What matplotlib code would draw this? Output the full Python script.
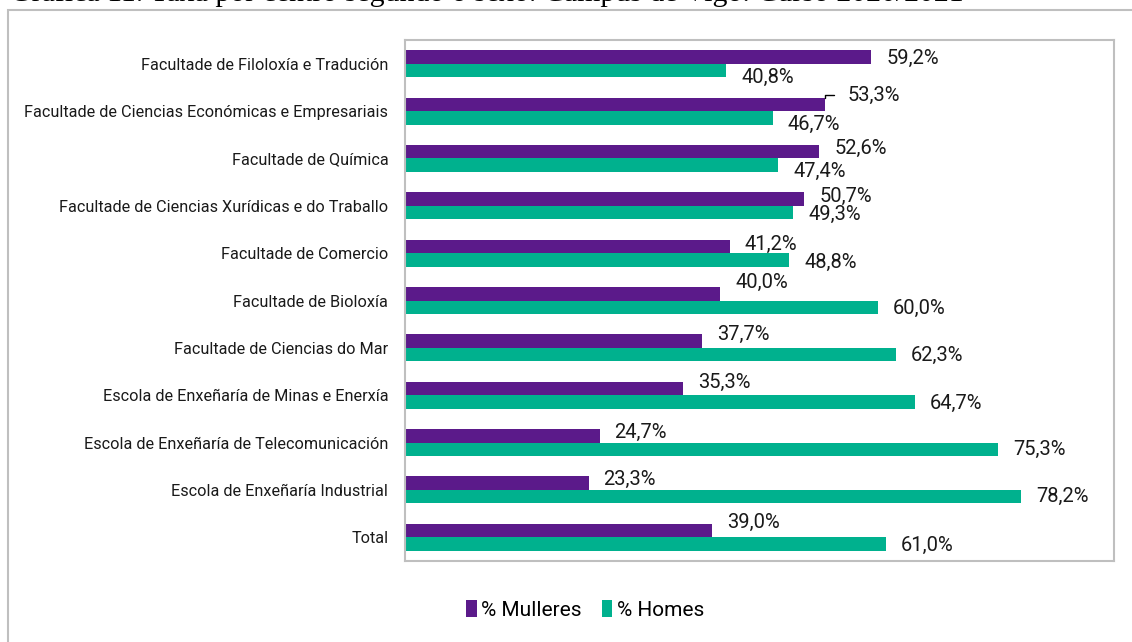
import matplotlib.pyplot as plt
import matplotlib.patches as mpatches
import numpy as np

plt.rcParams['font.family'] = ['Roboto', 'DejaVu Sans']

centros = [
    "Facultade de Filoloxía e Tradución",
    "Facultade de Ciencias Económicas e Empresariais",
    "Facultade de Química",
    "Facultade de Ciencias Xurídicas e do Traballo",
    "Facultade de Comercio",
    "Facultade de Bioloxía",
    "Facultade de Ciencias do Mar",
    "Escola de Enxeñaría de Minas e Enerxía",
    "Escola de Enxeñaría de Telecomunicación",
    "Escola de Enxeñaría Industrial",
    "Total",
]
mulleres = [59.2, 53.3, 52.6, 50.7, 41.2, 40.0, 37.7, 35.3, 24.7, 23.3, 39.0]
homes = [40.8, 46.7, 47.4, 49.3, 48.8, 60.0, 62.3, 64.7, 75.3, 78.2, 61.0]

# vertical nudges for the value labels, in pixels (positive = down)
nudge_m = [1.5, -5.5, -3.5, -3, -1.5, -11, -7, -6.5, -3, -4, -8]
nudge_h = [6.5, 6.5, 6, 2, 3, 1, 1, 1, 0, 0, 1]

cor_m = "#5B1A8A"
cor_h = "#00B18E"

W, H, DPI = 1132, 642, 100
fig = plt.figure(figsize=(W / DPI, H / DPI), dpi=DPI)
px = 72.0 / DPI  # points per pixel

# outer frame, running off the right and bottom edges
fig.patches.append(mpatches.Rectangle((8 / W, -0.1), 1.2, 1.1 - 10 / H,
                                      transform=fig.transFigure, fill=False,
                                      edgecolor="#BFBFBF", linewidth=1.5))

# caption, mostly cut off by the top edge
fig.text(10 / W, 1 - 1 / H,
         "Gráfica 11. Taxa por centro segundo o sexo. Campus de Vigo. Curso 2020/2021",
         family=["Liberation Serif", "DejaVu Serif"], fontsize=21.5,
         ha="left", va="baseline")

ax = fig.add_axes([405 / W, 1 - 561 / H, (1114 - 405) / W, (561 - 40) / H])

y = np.arange(len(centros))
h = 0.285
ax.barh(y - h / 2, mulleres, height=h, color=cor_m, label="% Mulleres")
ax.barh(y + h / 2, homes, height=h, color=cor_h, label="% Homes")

ax.set_xlim(0, 90)
ax.set_ylim(len(centros) - 0.5, -0.5)
ax.set_xticks([])
ax.set_yticks(y)
ax.set_yticklabels(centros, fontsize=11.7, color="#1a1a1a")
ax.tick_params(axis="y", length=0, pad=12)
for s in ax.spines.values():
    s.set_color("#BFBFBF")
    s.set_linewidth(1.5)


def fmt(v):
    return f"{v:.1f}%".replace(".", ",")


lab = dict(ha="left", va="center", fontsize=14.5, color="#1a1a1a",
           textcoords="offset points")
for i in range(len(centros)):
    if i == 1:
        # label pushed aside, with a short leader line
        ax.annotate(fmt(mulleres[i]), xy=(mulleres[i], y[i] - h),
                    xytext=(23 * px, 2.5 * px),
                    arrowprops=dict(arrowstyle="-", color="black", lw=1,
                                    shrinkA=8, shrinkB=0,
                                    connectionstyle="angle,angleA=0,angleB=90,rad=0"),
                    **lab)
    else:
        ax.annotate(fmt(mulleres[i]), xy=(mulleres[i], y[i] - h / 2),
                    xytext=(15 * px, -nudge_m[i] * px), **lab)
    ax.annotate(fmt(homes[i]), xy=(homes[i], y[i] + h / 2),
                xytext=(15 * px, -nudge_h[i] * px), **lab)

fig.legend(loc="center", bbox_to_anchor=(585 / W, 1 - 610 / H), ncol=2,
           frameon=False, fontsize=15, handlelength=0.5, handleheight=0.9,
           handletextpad=0.2, columnspacing=1.0)

fig.savefig("out.png", dpi=DPI)
